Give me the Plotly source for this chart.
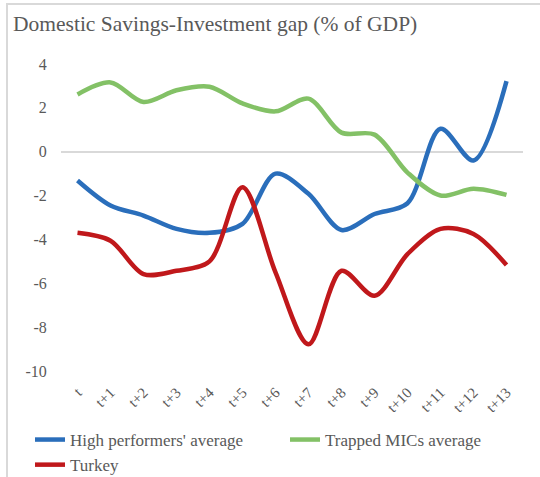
import plotly.graph_objects as go

categories = ["t", "t+1", "t+2", "t+3", "t+4", "t+5", "t+6", "t+7", "t+8", "t+9", "t+10", "t+11", "t+12", "t+13"]
high_performers = [-1.31, -2.45, -2.91, -3.52, -3.70, -3.29, -1.00, -1.92, -3.57, -2.84, -2.35, 1.05, -0.40, 3.22]
trapped_mics = [2.61, 3.16, 2.27, 2.80, 2.96, 2.20, 1.84, 2.42, 0.87, 0.78, -0.95, -2.00, -1.69, -1.97]
turkey = [-3.70, -4.06, -5.58, -5.43, -5.00, -1.62, -5.50, -8.78, -5.43, -6.57, -4.67, -3.52, -3.75, -5.17]
y_ticks = [4, 2, 0, -2, -4, -6, -8, -10]
y_tick_labels = [str(v) for v in y_ticks]

W, H = 540, 477
ml, mr, mt, mb = 61, 17, 64, 106
pw, ph = W - ml - mr, H - mt - mb
FONT = "Liberation Serif"
GRAY = "#595959"

fig = go.Figure()
series = [
    ("High performers' average", high_performers, "#2A6EBB"),
    ("Trapped MICs average", trapped_mics, "#83C166"),
    ("Turkey", turkey, "#C0181B"),
]
for name, vals, col in series:
    fig.add_trace(go.Scatter(
        x=categories, y=vals, name=name, mode="lines",
        line=dict(color=col, width=4.5, shape="spline", smoothing=0.9),
    ))

def px_x(p):
    return (p - ml) / pw

def px_y(p):
    return (H - mb - p) / ph

fig.add_shape(type="rect", xref="paper", yref="paper",
              x0=px_x(7), x1=px_x(560), y0=px_y(520), y1=px_y(4),
              line=dict(color="#D9D9D9", width=2), fillcolor="rgba(0,0,0,0)", layer="below")

fig.update_layout(
    width=W, height=H,
    margin=dict(l=ml, r=mr, t=mt, b=mb, autoexpand=False),
    paper_bgcolor="white", plot_bgcolor="white",
    font=dict(family=FONT, color=GRAY, size=15),
    title=dict(text="Domestic Savings-Investment gap (% of GDP)",
               x=13 / W, xref="container", xanchor="left",
               y=1 - 23 / H, yref="container", yanchor="middle",
               font=dict(family=FONT, size=21.5, color=GRAY)),
    xaxis=dict(type="category", range=[-0.5, 13.5], showgrid=False, showline=False,
               zeroline=False, tickangle=-45, ticks="outside", ticklen=6, tickcolor="white",
               automargin=False,
               tickfont=dict(family=FONT, size=15, color=GRAY)),
    yaxis=dict(range=[-10, 4], tickvals=y_ticks, ticktext=y_tick_labels,
               showgrid=False, showline=False,
               zeroline=True, zerolinecolor="#D9D9D9", zerolinewidth=1.5,
               ticks="outside", ticklen=10, tickcolor="white", automargin=False,
               tickfont=dict(family=FONT, size=16, color=GRAY)),
    showlegend=True,
    legend=dict(orientation="h", x=px_x(30), xanchor="left", y=px_y(422), yanchor="top",
                entrywidth=210, entrywidthmode="pixels",
                font=dict(family=FONT, size=17, color=GRAY), tracegroupgap=0,
                bgcolor="rgba(0,0,0,0)"),
)

fig.write_html("out.html")
